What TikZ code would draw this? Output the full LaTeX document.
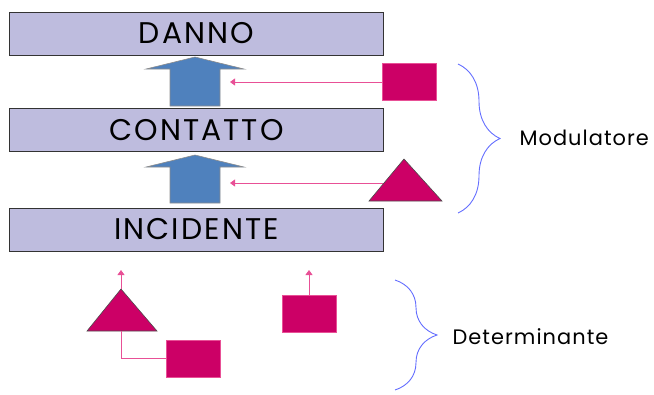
\documentclass[tikz,border=0pt]{standalone}
\usepackage{fontspec}
\setmainfont{Poppins}
\usetikzlibrary{arrows.meta,decorations.pathreplacing}

\definecolor{boxfill}{RGB}{190,188,222}
\definecolor{arrowblue}{RGB}{79,129,189}
\definecolor{magenta}{RGB}{204,0,102}
\definecolor{linkpink}{RGB}{232,80,150}
\definecolor{braceblue}{RGB}{100,110,255}

\tikzset{
	level/.style={draw=black!80, fill=boxfill, line width=1pt, minimum width=373bp, minimum height=43bp, inner sep=0pt, font=\fontsize{30}{34}\selectfont\addfontfeature{LetterSpace=7}},
	uparrow/.style={draw=black!45, fill=arrowblue, line width=0.6pt},
	mark box/.style={fill=magenta, draw=linkpink, line width=0.5pt, minimum width=54bp, minimum height=37bp, inner sep=0pt},
	marktri/.style={fill=magenta, draw=black!70, line width=0.6pt},
	link/.style={draw=linkpink, line width=0.8pt, -{Triangle[length=5bp,width=7bp]}},
	linkplain/.style={draw=linkpink, line width=0.8pt},
	curly/.style={draw=braceblue, line width=0.9pt, decorate, decoration={brace, amplitude=42bp}},
	side/.style={anchor=west, font=\fontsize{21}{24}\selectfont\addfontfeature{LetterSpace=5}}
}

\begin{document}
\begin{tikzpicture}[x=1bp, y=-1bp]

		\useasboundingbox (0,0) rectangle (654,394);

		% Nodes
		\node[level] (danno) at (196.5,33.5) {DANNO};
		\node[level] (contatto) at (196.5,130) {CONTATTO};
		\node[level] (incidente) at (196.5,229.5) {INCIDENTE};

		\node[mark box] (sqA) at (409,82) {};
		\node[mark box] (sqC) at (193,358.5) {};
		\node[mark box] (sqD) at (309,313.5) {};

		% Block arrows
		\draw[uparrow] (170,106) -- (170,69) -- (146,69) -- (195,57) -- (244,69) -- (220,69) -- (220,106) -- cycle;
		\draw[uparrow] (170,203) -- (170,167) -- (146,167) -- (195,155) -- (244,167) -- (220,167) -- (220,203) -- cycle;

		% Triangles
		\draw[marktri] (369,201) -- (404,159) -- (442,201) -- cycle;
		\coordinate (triB) at (383,183);
		\draw[marktri] (87,331) -- (121,289) -- (157,331) -- cycle;
		\coordinate (apexC) at (121,289);
		\coordinate (baseC) at (121,331);

		% Arrow ends
		\coordinate (hA) at (230,82);
		\coordinate (hB) at (230,183);
		\coordinate (hC) at (121,270);
		\coordinate (hD) at (309,270);

		% Edges
		\draw[link] (sqA) -- (hA);
		\draw[link] (triB) -- (hB);
		\draw[link] (apexC) -- (hC);
		\draw[link] (sqD) -- (hD);
		\draw[linkplain] (baseC) |- (sqC.west);

		% Braces
		\draw[curly] (458,64) -- (458,213);
		\draw[curly] (395,280) -- (395,390);
		\node[side] (mod) at (516,138) {Modulatore};
		\node[side] (det) at (449,337) {Determinante};

	\end{tikzpicture}
\end{document}
